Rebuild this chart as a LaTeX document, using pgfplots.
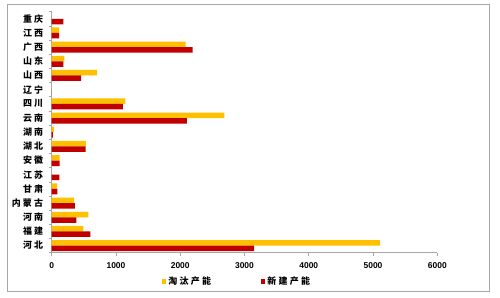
\documentclass[border=0pt]{standalone}
\usepackage{fontspec}
\setmainfont{Liberation Sans}
\newfontfamily\cjk[LetterSpace=25]{Noto Sans CJK SC}
\usepackage{pgfplots}
\pgfplotsset{compat=1.18}
\definecolor{cyel}{HTML}{FFC000}
\definecolor{cred}{HTML}{C00000}
\definecolor{axgray}{HTML}{A6A6A6}
\begin{document}
\begin{tikzpicture}
\path[fill=white] (-51.7bp,-45.3bp) rectangle (448.3bp,252.7bp);
\begin{axis}[
  scale only axis,
  width=385.6bp, height=241bp,
  xmin=0, xmax=6000,
  ymin=-0.5, ymax=16.5,
  xtick={0,1000,...,6000},
  ytick={0,...,16},
  yticklabels={河北,福建,河南,内蒙古,甘肃,江苏,安徽,湖北,湖南,云南,四川,辽宁,山西,山东,广西,江西,重庆},
  minor ytick={-0.5,0.5,...,16.5},
  major y tick style={draw=none},
  minor y tick style={draw=axgray, line width=0.6pt},
  x tick style={draw=axgray, line width=0.6pt},
  tick align=outside,
  major tick length=3bp, minor tick length=3bp,
  axis x line*=bottom, axis y line*=left,
  x axis line style={draw=axgray, line width=0.8pt, -},
  y axis line style={draw=axgray, line width=0.8pt, -},
  /pgf/number format/assume math mode=true,
  /pgf/number format/1000 sep={},
  xticklabel style={font=\fontsize{8.5}{10}\selectfont\bfseries, yshift=-3bp},
  yticklabel style={font=\fontsize{9}{10}\selectfont\cjk\bfseries, xshift=-2bp},
  xbar, bar width=5.5bp,
  legend style={at={(185.3bp,-29bp)}, anchor=center, draw=none, fill=none,
    legend columns=2, font=\fontsize{9}{10}\selectfont\cjk\bfseries,
    /tikz/every even column/.append style={column sep=48bp},
    /tikz/every odd column/.append style={column sep=0bp}},
  legend cell align=left,
  legend image code/.code={\fill[#1] (0bp,-2.2bp) rectangle (4.4bp,2.2bp);},
]
\addplot[draw=none, fill=cyel, bar shift=2.75bp] coordinates {
(5106,0) (492,1) (570,2) (347,3) (82,4) (0,5) (124,6) (533,7) (36,8) (2685,9) (1145,10) (0,11) (705,12) (196,13) (2084,14) (114,15) (0,16)};
\addplot[draw=none, fill=cred, bar shift=-2.75bp] coordinates {
(3151,0) (600,1) (383,2) (362,3) (88,4) (118,5) (122,6) (529,7) (20,8) (2104,9) (1109,10) (0,11) (456,12) (180,13) (2193,14) (114,15) (180,16)};
\legend{淘汰产能,新建产能}
\end{axis}
\draw[axgray, line width=0.9pt] (-44.7bp,-38.3bp) rectangle (437.3bp,248.7bp);
\end{tikzpicture}
\end{document}
